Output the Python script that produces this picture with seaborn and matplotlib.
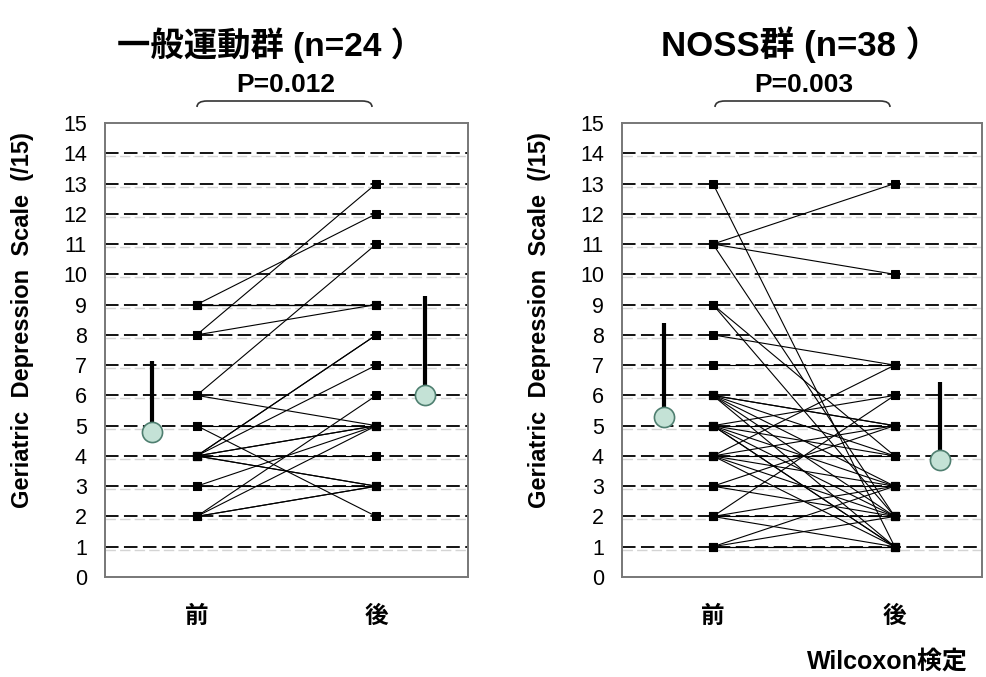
import matplotlib
matplotlib.use('Agg')
import matplotlib.pyplot as plt
import matplotlib.patches as mpatches
from matplotlib.path import Path
import numpy as np
import pandas as pd
import seaborn as sns

# 一般運動群 (n=24): scores before (前) and after (後)
gen_pre = [9, 9, 9, 9, 8, 8, 6, 6, 5, 5, 4, 4, 4, 4, 4, 4, 4, 4, 3, 3, 2, 2, 2, 2]
gen_post = [12, 9, 9, 9, 13, 9, 11, 5, 5, 2, 8, 8, 7, 5, 4, 3, 3, 5, 5, 3, 6, 5, 3, 3]
gen_mean = [4.8, 6.0]
gen_sd = [2.35, 3.3]

# NOSS群 (n=38)
noss_pre = [13, 11, 11, 11, 9, 9, 8, 7, 6, 6, 6, 6, 6, 6, 5, 5, 5, 5, 5, 5, 5,
            4, 4, 4, 4, 4, 4, 3, 3, 3, 2, 2, 2, 2, 1, 1, 1, 1]
noss_post = [1, 13, 10, 2, 4, 2, 7, 7, 5, 4, 3, 2, 1, 5, 5, 4, 3, 2, 1, 1, 6,
             4, 3, 2, 1, 5, 7, 3, 2, 5, 6, 1, 3, 2, 1, 2, 1, 3]
noss_mean = [5.3, 3.85]
noss_sd = [3.1, 2.6]

time_labels = ['前', '後']
titles = ['一般運動群 (n=24 ）', 'NOSS群 (n=38 ）']
p_texts = ['P=0.012', 'P=0.003']
y_ticks = list(range(0, 16))
ylabel = 'Geriatric  Depression  Scale  (/15)'

sns.set_style('white')
plt.rcParams['font.family'] = ['Liberation Sans', 'Noto Sans CJK JP', 'DejaVu Sans']
plt.rcParams['text.color'] = 'black'
plt.rcParams['axes.labelcolor'] = 'black'
plt.rcParams['xtick.color'] = 'black'
plt.rcParams['ytick.color'] = 'black'

fig = plt.figure(figsize=(9.87, 6.77), dpi=100)
W, H = 987, 677


def fx(px):
    return px / W


def fy(py):
    return 1 - py / H


def panel(ax, pre, post, mean, sd, circ_x, xlim, lab_x):
    n = len(pre)
    df = pd.DataFrame({'id': list(range(n)) * 2,
                       'time': [0] * n + [1] * n,
                       'score': pre + post})
    for lv in range(1, 15):
        ax.axhline(lv - 0.1, color='#d4d4d4', lw=1.0, ls=(0, (7.5, 3)), zorder=0)
        ax.axhline(lv, color='black', lw=1.3, ls=(0, (7.5, 3)), zorder=1)
    sns.lineplot(data=df, x='time', y='score', units='id', estimator=None,
                 color='black', lw=0.8, marker='s', markersize=5.5,
                 markeredgecolor='black', ax=ax, legend=False, zorder=3)
    ax.vlines(circ_x, mean, np.array(mean) + np.array(sd), color='black',
              lw=3, zorder=4)
    sns.scatterplot(x=circ_x, y=mean, s=210, color='#c4e2d6',
                    edgecolor='#4f7f70', linewidth=1.2, ax=ax, zorder=5)
    ax.set_xlim(*xlim)
    ax.set_ylim(0, 15)
    ax.set_yticks(y_ticks)
    ax.set_yticklabels([str(t) for t in y_ticks], fontsize=15.5)
    ax.set_xticks([0, 1])
    ax.set_xticklabels(time_labels, fontsize=17, fontweight='bold')
    ax.set_xticks([0.5], minor=True)
    ax.tick_params(axis='x', which='major', length=0, pad=20)
    ax.tick_params(axis='x', which='minor', length=6, direction='in',
                   color='#555555', width=1)
    ax.tick_params(axis='y', length=0, pad=13)
    ax.set_xlabel('')
    ax.set_ylabel(ylabel, fontsize=17, fontweight='bold')
    ax.yaxis.set_label_coords(lab_x, (577 - 320) / 454)
    for s in ax.spines.values():
        s.set_color('#777777')
        s.set_linewidth(1.4)


ax1 = fig.add_axes([fx(105), fy(577), fx(468 - 105), (577 - 123) / H])
ax2 = fig.add_axes([fx(622), fy(577), fx(982 - 622), (577 - 123) / H])

panel(ax1, gen_pre, gen_post, gen_mean, gen_sd, [-0.25, 1.27], (-0.51, 1.51),
      (34 - 105) / 363)
panel(ax2, noss_pre, noss_post, noss_mean, noss_sd, [-0.27, 1.25], (-0.5, 1.48),
      (551 - 622) / 360)

# titles, p-values and brackets
for cx, fs, title, pt, (bx0, bx1) in [(271, 24, titles[0], p_texts[0], (197, 372)),
                                       (801, 25, titles[1], p_texts[1], (715, 890))]:
    fig.text(fx(cx), fy(45), title, ha='center', va='center',
             fontsize=fs, fontweight='bold')
    fig.text(fx((bx0 + bx1) / 2 + 1), fy(85), pt, ha='center', va='center',
             fontsize=19, fontweight='bold')
    verts = [(fx(bx0), fy(107)), (fx(bx0), fy(101)), (fx(bx0 + 10), fy(101)),
             (fx(bx1 - 10), fy(101)), (fx(bx1), fy(101)), (fx(bx1), fy(107))]
    codes = [Path.MOVETO, Path.CURVE3, Path.CURVE3, Path.LINETO,
             Path.CURVE3, Path.CURVE3]
    fig.patches.append(mpatches.PathPatch(Path(verts, codes), fill=False,
                                          lw=1.2, edgecolor='#333333',
                                          transform=fig.transFigure))

fig.text(fx(968), fy(662), 'Wilcoxon検定', ha='right', va='center',
         fontsize=18, fontweight='bold')

fig.savefig('out.png', dpi=100)
